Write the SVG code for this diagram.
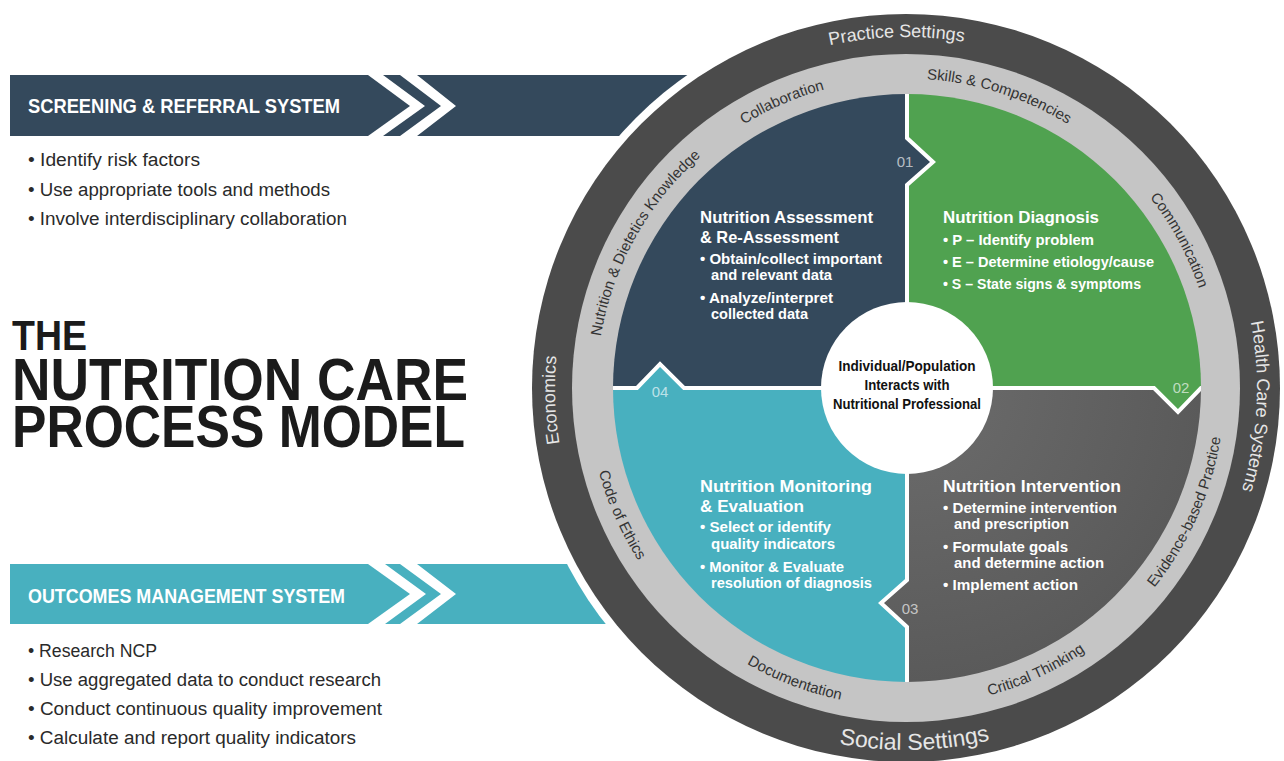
<svg xmlns="http://www.w3.org/2000/svg" width="1284" height="761" viewBox="0 0 1284 761">
<defs>
<style>
.ttl{font-family:"Liberation Sans",Arial,sans-serif;font-weight:bold;fill:#1b1b1b}
.ban{font-family:"Liberation Sans",Arial,sans-serif;font-weight:bold;fill:#fff;font-size:20px}
.li{font-family:"Liberation Sans",Arial,sans-serif;font-size:18px;fill:#2a2a2a}
.qh{font-family:"Liberation Sans",Arial,sans-serif;font-weight:bold;font-size:17px;fill:#fff}
.qb{font-family:"Liberation Sans",Arial,sans-serif;font-weight:bold;font-size:14.5px;fill:#fff}
.ctr{font-family:"Liberation Sans",Arial,sans-serif;font-weight:bold;font-size:14px;fill:#111;text-anchor:middle}
.rd{font-family:"Liberation Sans",Arial,sans-serif;font-size:18px;fill:#e6e6e6;text-anchor:middle}
.rd2{font-family:"Liberation Sans",Arial,sans-serif;font-size:23px;fill:#e6e6e6;text-anchor:middle}
.rl{font-family:"Liberation Sans",Arial,sans-serif;font-size:15px;fill:#333;text-anchor:middle}
.num{font-family:"Liberation Sans",Arial,sans-serif;font-size:15px;fill:#fff;fill-opacity:.65;text-anchor:middle}
.div{fill:none;stroke:#fff;stroke-width:4;stroke-linejoin:miter}
</style>
<clipPath id="qclip"><circle cx="907" cy="388" r="294"/></clipPath>
<radialGradient id="grayG" cx="907" cy="388" r="294" gradientUnits="userSpaceOnUse">
<stop offset="0.3" stop-color="#676767"/>
<stop offset="1" stop-color="#5a5a5a"/>
</radialGradient>
<path id="cwD" d="M906,739 A351,351 0 1 1 906,37 A351,351 0 1 1 906,739"/>
<path id="ccwD" d="M906,26 A362,362 0 1 0 906,750 A362,362 0 1 0 906,26"/>
<path id="cwL" d="M906,697.5 A309.5,309.5 0 1 1 906,78.5 A309.5,309.5 0 1 1 906,697.5"/>
<path id="ccwL" d="M906,69.5 A318.5,318.5 0 1 0 906,706.5 A318.5,318.5 0 1 0 906,69.5"/>
</defs>

<g id="screening-banner">
<polygon points="10,75 368,75 410,106 368,136 10,136" fill="#34495c"/>
<polygon points="383,75 400,75 441,106 400,136 383,136 425,106" fill="#34495c"/>
<polygon points="417,75 730,75 730,136 417,136 456,106" fill="#34495c"/>
<text class="ban" x="28" y="113" textLength="312" lengthAdjust="spacingAndGlyphs">SCREENING &amp; REFERRAL SYSTEM</text>
</g>
<g id="screening-list">
<text class="li" x="28" y="166" textLength="172" lengthAdjust="spacingAndGlyphs">• Identify risk factors</text>
<text class="li" x="28" y="196" textLength="302" lengthAdjust="spacingAndGlyphs">• Use appropriate tools and methods</text>
<text class="li" x="28" y="225" textLength="319" lengthAdjust="spacingAndGlyphs">• Involve interdisciplinary collaboration</text>
</g>

<g id="outcomes-banner">
<polygon points="10,564 368,564 410,594 368,624 10,624" fill="#48b0bf"/>
<polygon points="385,564 400,564 441,594 400,624 385,624 426,594" fill="#48b0bf"/>
<polygon points="417,564 650,564 650,624 417,624 456,594" fill="#48b0bf"/>
<text class="ban" x="28" y="603" textLength="317" lengthAdjust="spacingAndGlyphs">OUTCOMES MANAGEMENT SYSTEM</text>
</g>
<g id="outcomes-list">
<text class="li" x="28" y="657" textLength="129" lengthAdjust="spacingAndGlyphs">• Research NCP</text>
<text class="li" x="28" y="686" textLength="353" lengthAdjust="spacingAndGlyphs">• Use aggregated data to conduct research</text>
<text class="li" x="28" y="715" textLength="354" lengthAdjust="spacingAndGlyphs">• Conduct continuous quality improvement</text>
<text class="li" x="28" y="744" textLength="328" lengthAdjust="spacingAndGlyphs">• Calculate and report quality indicators</text>
</g>

<g id="title">
<text class="ttl" x="12" y="350" font-size="42" textLength="75" lengthAdjust="spacingAndGlyphs">THE</text>
<text class="ttl" x="12" y="400" font-size="60" textLength="456" lengthAdjust="spacingAndGlyphs">NUTRITION CARE</text>
<text class="ttl" x="12" y="447" font-size="60" textLength="453" lengthAdjust="spacingAndGlyphs">PROCESS MODEL</text>
</g>

<g id="outer-ring">
<circle cx="906" cy="388" r="382" fill="#fff"/>
<circle cx="906" cy="388" r="374" fill="#4b4b4b"/>
<text class="rd"><textPath href="#cwD" startOffset="1092.9">Practice Settings</textPath></text>
<text class="rd"><textPath href="#cwD" startOffset="1671.8">Health Care Systems</textPath></text>
<text class="rd"><textPath href="#cwD" startOffset="539.1">Economics</textPath></text>
<text class="rd2"><textPath href="#ccwD" startOffset="1145.5">Social Settings</textPath></text>
</g>

<g id="skills-ring">
<circle cx="906" cy="388" r="334" fill="#c5c5c5"/>
<text class="rl"><textPath href="#cwL" startOffset="845.4">Collaboration</textPath></text>
<text class="rl"><textPath href="#cwL" startOffset="1067.4">Skills &amp; Competencies</textPath></text>
<text class="rl"><textPath href="#cwL" startOffset="1304.5">Communication</textPath></text>
<text class="rl"><textPath href="#cwL" startOffset="642.8">Nutrition &amp; Dietetics Knowledge</textPath></text>
<text class="rl"><textPath href="#ccwL" startOffset="1367.5">Evidence-based Practice</textPath></text>
<text class="rl"><textPath href="#ccwL" startOffset="1137.3">Critical Thinking</textPath></text>
<text class="rl"><textPath href="#ccwL" startOffset="883.9">Documentation</textPath></text>
<text class="rl"><textPath href="#ccwL" startOffset="633.7">Code of Ethics</textPath></text>
</g>

<g id="quadrant-assessment">
<polygon clip-path="url(#qclip)" fill="#34495c" points="600,80 907,80 907,138 933,162 907,185 907,388 684,388 660,364 637,388 600,388"/>
<text class="num" x="905" y="167">01</text>
<text class="qh" x="700" y="223" textLength="173" lengthAdjust="spacingAndGlyphs">Nutrition Assessment</text>
<text class="qh" x="700" y="243" textLength="139" lengthAdjust="spacingAndGlyphs">&amp; Re-Assessment</text>
<text class="qb" x="700" y="264" textLength="182" lengthAdjust="spacingAndGlyphs">• Obtain/collect important</text>
<text class="qb" x="711" y="280" textLength="121" lengthAdjust="spacingAndGlyphs">and relevant data</text>
<text class="qb" x="700" y="303" textLength="133" lengthAdjust="spacingAndGlyphs">• Analyze/interpret</text>
<text class="qb" x="711" y="319" textLength="97" lengthAdjust="spacingAndGlyphs">collected data</text>
</g>

<g id="quadrant-diagnosis">
<polygon clip-path="url(#qclip)" fill="#50a250" points="907,80 1210,80 1210,388 1201,388 1178,412 1154,388 907,388 907,185 933,162 907,138"/>
<text class="num" x="1181" y="393">02</text>
<text class="qh" x="943" y="223" textLength="156" lengthAdjust="spacingAndGlyphs">Nutrition Diagnosis</text>
<text class="qb" x="943" y="245" textLength="151" lengthAdjust="spacingAndGlyphs">• P – Identify problem</text>
<text class="qb" x="943" y="267" textLength="211" lengthAdjust="spacingAndGlyphs">• E – Determine etiology/cause</text>
<text class="qb" x="943" y="289" textLength="198" lengthAdjust="spacingAndGlyphs">• S – State signs &amp; symptoms</text>
</g>

<g id="quadrant-intervention">
<polygon clip-path="url(#qclip)" fill="url(#grayG)" points="907,388 1154,388 1178,412 1201,388 1210,388 1210,700 907,700 907,627 881,603 907,580"/>
<text class="num" x="910" y="614">03</text>
<text class="qh" x="943" y="492" textLength="178" lengthAdjust="spacingAndGlyphs">Nutrition Intervention</text>
<text class="qb" x="943" y="513" textLength="174" lengthAdjust="spacingAndGlyphs">• Determine intervention</text>
<text class="qb" x="954" y="529" textLength="115" lengthAdjust="spacingAndGlyphs">and prescription</text>
<text class="qb" x="943" y="552" textLength="125" lengthAdjust="spacingAndGlyphs">• Formulate goals</text>
<text class="qb" x="954" y="568" textLength="150" lengthAdjust="spacingAndGlyphs">and determine action</text>
<text class="qb" x="943" y="590" textLength="135" lengthAdjust="spacingAndGlyphs">• Implement action</text>
</g>

<g id="quadrant-monitoring">
<polygon clip-path="url(#qclip)" fill="#48b0bf" points="600,388 637,388 660,364 684,388 907,388 907,580 881,603 907,627 907,700 600,700"/>
<text class="num" x="660" y="397">04</text>
<text class="qh" x="700" y="492" textLength="172" lengthAdjust="spacingAndGlyphs">Nutrition Monitoring</text>
<text class="qh" x="700" y="512" textLength="104" lengthAdjust="spacingAndGlyphs">&amp; Evaluation</text>
<text class="qb" x="700" y="532" textLength="131" lengthAdjust="spacingAndGlyphs">• Select or identify</text>
<text class="qb" x="711" y="549" textLength="124" lengthAdjust="spacingAndGlyphs">quality indicators</text>
<text class="qb" x="700" y="572" textLength="144" lengthAdjust="spacingAndGlyphs">• Monitor &amp; Evaluate</text>
<text class="qb" x="711" y="588" textLength="161" lengthAdjust="spacingAndGlyphs">resolution of diagnosis</text>
</g>

<g id="connectors" clip-path="url(#qclip)">
<polyline class="div" points="907,90 907,138 933,162 907,185 907,388 907,580 881,603 907,627 907,690"/>
<polyline class="div" points="605,388 637,388 660,364 684,388 1154,388 1178,412 1201,388 1210,388"/>
</g>

<g id="center">
<circle cx="907" cy="388" r="86" fill="#fff"/>
<text class="ctr" x="907" y="371" textLength="137" lengthAdjust="spacingAndGlyphs">Individual/Population</text>
<text class="ctr" x="907" y="390" textLength="85" lengthAdjust="spacingAndGlyphs">Interacts with</text>
<text class="ctr" x="907" y="409" textLength="148" lengthAdjust="spacingAndGlyphs">Nutritional Professional</text>
</g>
</svg>
